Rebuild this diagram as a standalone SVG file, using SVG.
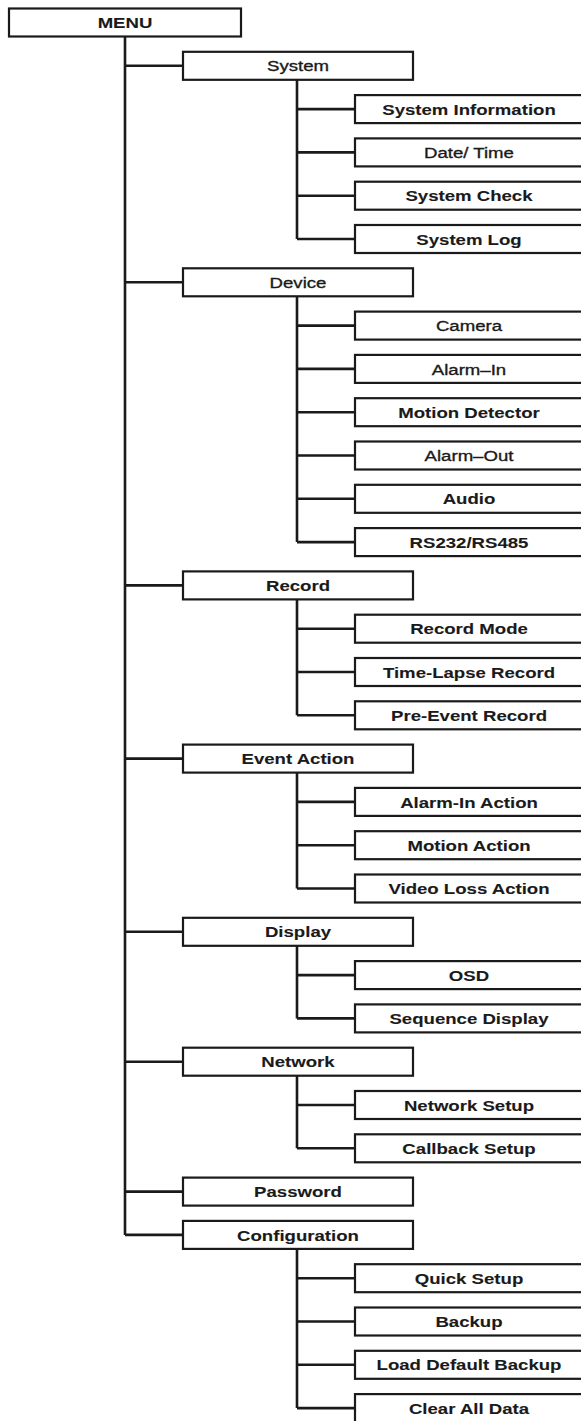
<svg xmlns="http://www.w3.org/2000/svg" width="581" height="1421" viewBox="0 0 581 1421">
<style>
.box{fill:#fff;stroke:#1a1a1a;stroke-width:2.2}
.ln{fill:none;stroke:#1a1a1a;stroke-width:2.6}
text{font-family:"Liberation Sans",Arial,sans-serif;font-size:15.5px;fill:#1a1a1a;text-anchor:middle;stroke:#1a1a1a;stroke-width:0.35}
.b{font-weight:bold;stroke-width:0.1}
</style>
<rect width="581" height="1421" fill="#fff"/>
<g id="connectors">
<path class="ln" d="M125 36.5V1234.9"/>
<path class="ln" d="M125 65.8H183M125 282.3H183M125 585.4H183M125 758.6H183M125 931.8H183M125 1061.7H183M125 1191.6H183M125 1234.9H183"/>
<path class="ln" d="M297 79.8V239M297 109.1H355M297 152.4H355M297 195.7H355M297 239H355"/>
<path class="ln" d="M297 296.3V542.1M297 325.6H355M297 368.9H355M297 412.2H355M297 455.5H355M297 498.8H355M297 542.1H355"/>
<path class="ln" d="M297 599.4V715.3M297 628.7H355M297 672H355M297 715.3H355"/>
<path class="ln" d="M297 772.6V888.5M297 801.9H355M297 845.2H355M297 888.5H355"/>
<path class="ln" d="M297 945.8V1018.4M297 975.1H355M297 1018.4H355"/>
<path class="ln" d="M297 1075.7V1148.3M297 1105H355M297 1148.3H355"/>
<path class="ln" d="M297 1248.9V1408.1M297 1278.2H355M297 1321.5H355M297 1364.8H355M297 1408.1H355"/>
</g>
<g id="menu"><rect class="box" x="9" y="8.5" width="232" height="28"/><text class="b" transform="translate(125 28) scale(1.2 1)">MENU</text></g>
<g id="system"><rect class="box" x="183" y="51.8" width="230" height="28"/><text transform="translate(298 71.4) scale(1.2 1)">System</text></g>
<g id="system-information"><rect class="box" x="355" y="95.1" width="230" height="28"/><text class="b" transform="translate(469 114.7) scale(1.2 1)">System Information</text></g>
<g id="date-time"><rect class="box" x="355" y="138.4" width="230" height="28"/><text transform="translate(469 158) scale(1.2 1)">Date/ Time</text></g>
<g id="system-check"><rect class="box" x="355" y="181.7" width="230" height="28"/><text class="b" transform="translate(469 201.3) scale(1.2 1)">System Check</text></g>
<g id="system-log"><rect class="box" x="355" y="225" width="230" height="28"/><text class="b" transform="translate(469 244.6) scale(1.2 1)">System Log</text></g>
<g id="device"><rect class="box" x="183" y="268.3" width="230" height="28"/><text transform="translate(298 287.9) scale(1.2 1)">Device</text></g>
<g id="camera"><rect class="box" x="355" y="311.6" width="230" height="28"/><text transform="translate(469 331.2) scale(1.2 1)">Camera</text></g>
<g id="alarm-in"><rect class="box" x="355" y="354.9" width="230" height="28"/><text transform="translate(469 374.5) scale(1.2 1)">Alarm–In</text></g>
<g id="motion-detector"><rect class="box" x="355" y="398.2" width="230" height="28"/><text class="b" transform="translate(469 417.8) scale(1.2 1)">Motion Detector</text></g>
<g id="alarm-out"><rect class="box" x="355" y="441.5" width="230" height="28"/><text transform="translate(469 461.1) scale(1.2 1)">Alarm–Out</text></g>
<g id="audio"><rect class="box" x="355" y="484.8" width="230" height="28"/><text class="b" transform="translate(469 504.4) scale(1.2 1)">Audio</text></g>
<g id="rs232"><rect class="box" x="355" y="528.1" width="230" height="28"/><text class="b" transform="translate(469 547.7) scale(1.2 1)">RS232/RS485</text></g>
<g id="record"><rect class="box" x="183" y="571.4" width="230" height="28"/><text class="b" transform="translate(298 591) scale(1.2 1)">Record</text></g>
<g id="record-mode"><rect class="box" x="355" y="614.7" width="230" height="28"/><text class="b" transform="translate(469 634.3) scale(1.2 1)">Record Mode</text></g>
<g id="time-lapse-record"><rect class="box" x="355" y="658" width="230" height="28"/><text class="b" transform="translate(469 677.6) scale(1.2 1)">Time-Lapse Record</text></g>
<g id="pre-event-record"><rect class="box" x="355" y="701.3" width="230" height="28"/><text class="b" transform="translate(469 720.9) scale(1.2 1)">Pre-Event Record</text></g>
<g id="event-action"><rect class="box" x="183" y="744.6" width="230" height="28"/><text class="b" transform="translate(298 764.2) scale(1.2 1)">Event Action</text></g>
<g id="alarm-in-action"><rect class="box" x="355" y="787.9" width="230" height="28"/><text class="b" transform="translate(469 807.5) scale(1.2 1)">Alarm-In Action</text></g>
<g id="motion-action"><rect class="box" x="355" y="831.2" width="230" height="28"/><text class="b" transform="translate(469 850.8) scale(1.2 1)">Motion Action</text></g>
<g id="video-loss-action"><rect class="box" x="355" y="874.5" width="230" height="28"/><text class="b" transform="translate(469 894.1) scale(1.2 1)">Video Loss Action</text></g>
<g id="display"><rect class="box" x="183" y="917.8" width="230" height="28"/><text class="b" transform="translate(298 937.4) scale(1.2 1)">Display</text></g>
<g id="osd"><rect class="box" x="355" y="961.1" width="230" height="28"/><text class="b" transform="translate(469 980.7) scale(1.2 1)">OSD</text></g>
<g id="sequence-display"><rect class="box" x="355" y="1004.4" width="230" height="28"/><text class="b" transform="translate(469 1024) scale(1.2 1)">Sequence Display</text></g>
<g id="network"><rect class="box" x="183" y="1047.7" width="230" height="28"/><text class="b" transform="translate(298 1067.3) scale(1.2 1)">Network</text></g>
<g id="network-setup"><rect class="box" x="355" y="1091" width="230" height="28"/><text class="b" transform="translate(469 1110.6) scale(1.2 1)">Network Setup</text></g>
<g id="callback-setup"><rect class="box" x="355" y="1134.3" width="230" height="28"/><text class="b" transform="translate(469 1153.9) scale(1.2 1)">Callback Setup</text></g>
<g id="password"><rect class="box" x="183" y="1177.6" width="230" height="28"/><text class="b" transform="translate(298 1197.2) scale(1.2 1)">Password</text></g>
<g id="configuration"><rect class="box" x="183" y="1220.9" width="230" height="28"/><text class="b" transform="translate(298 1240.5) scale(1.2 1)">Configuration</text></g>
<g id="quick-setup"><rect class="box" x="355" y="1264.2" width="230" height="28"/><text class="b" transform="translate(469 1283.8) scale(1.2 1)">Quick Setup</text></g>
<g id="backup"><rect class="box" x="355" y="1307.5" width="230" height="28"/><text class="b" transform="translate(469 1327.1) scale(1.2 1)">Backup</text></g>
<g id="load-default-backup"><rect class="box" x="355" y="1350.8" width="230" height="28"/><text class="b" transform="translate(469 1370.4) scale(1.2 1)">Load Default Backup</text></g>
<g id="clear-all-data"><rect class="box" x="355" y="1394.1" width="230" height="28"/><text class="b" transform="translate(469 1413.7) scale(1.2 1)">Clear All Data</text></g>
</svg>
